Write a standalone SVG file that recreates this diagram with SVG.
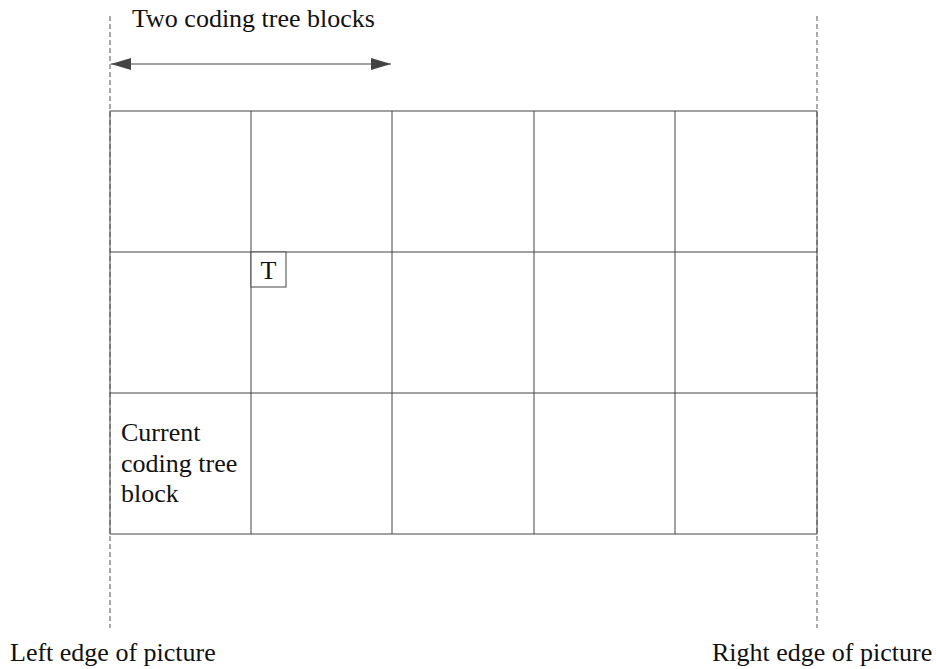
<svg xmlns="http://www.w3.org/2000/svg" width="936" height="669" viewBox="0 0 936 669">
<style>
text{font-family:"Liberation Serif","Times New Roman",serif;font-size:26px;fill:#111}
.grid{stroke:#444;stroke-width:1;fill:none}
.dash{stroke:#555;stroke-width:1;stroke-dasharray:5,3;fill:none}
</style>
<defs>
<marker id="ah" viewBox="0 0 20 12" refX="20" refY="6" markerWidth="20" markerHeight="12" markerUnits="userSpaceOnUse" orient="auto-start-reverse">
<path d="M0,0 L20,6 L0,12 Z" fill="#444"/>
</marker>
</defs>
<rect width="936" height="669" fill="#fff"/>
<g id="grid">
<rect class="grid" x="110" y="111" width="707" height="423"/>
<path class="grid" d="M251,111V534M392,111V534M534,111V534M675,111V534M110,252H817M110,393H817"/>
</g>
<g id="connectors">
<line class="dash" x1="110" y1="16" x2="110" y2="628"/>
<line class="dash" x1="817" y1="16" x2="817" y2="628"/>
<line x1="111" y1="64" x2="391" y2="64" stroke="#444" stroke-width="1.2" marker-start="url(#ah)" marker-end="url(#ah)"/>
</g>
<g id="label-two"><text x="132" y="27">Two coding tree blocks</text></g>
<g id="node-T">
<rect x="251" y="252" width="35" height="35" fill="#fff" stroke="#444"/>
<text x="268.5" y="279" text-anchor="middle">T</text>
</g>
<g id="node-current">
<text x="121" y="441">Current</text>
<text x="121" y="472">coding tree</text>
<text x="121" y="502">block</text>
</g>
<g id="label-left"><text x="10" y="661">Left edge of picture</text></g>
<g id="label-right"><text x="712" y="661">Right edge of picture</text></g>
</svg>
